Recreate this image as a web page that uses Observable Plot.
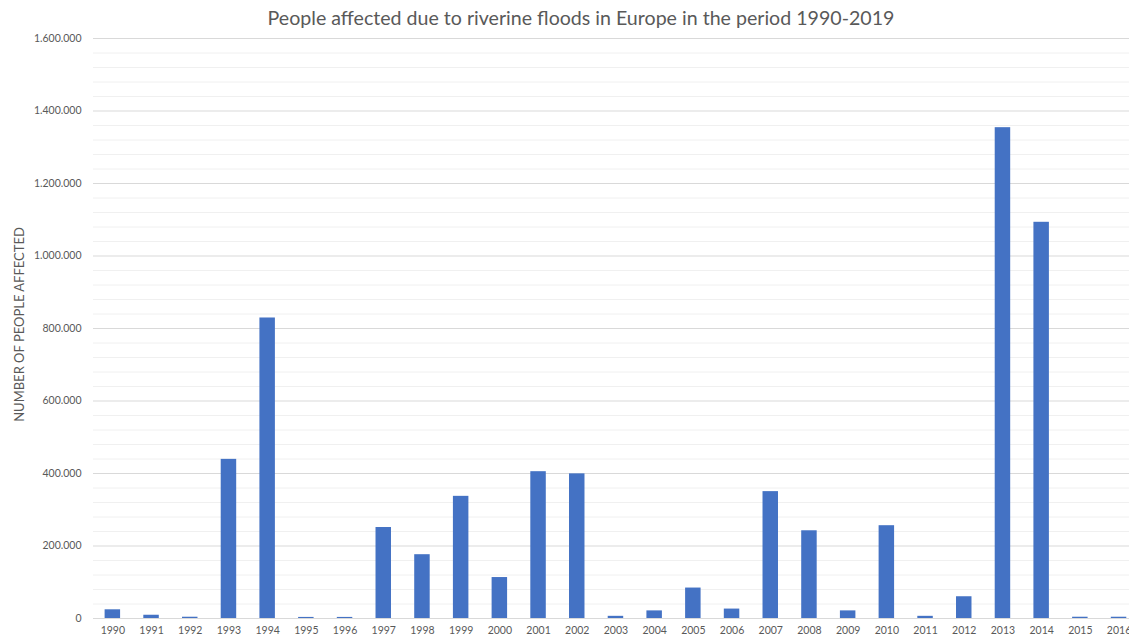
<!DOCTYPE html>
<html>
<head>
<meta charset="utf-8">
<script src="https://cdn.jsdelivr.net/npm/d3@7"></script>
<script src="https://cdn.jsdelivr.net/npm/@observablehq/plot@0.6"></script>
<style>
  html, body { margin: 0; padding: 0; background: #fff; overflow: hidden; }
  #wrap { position: relative; width: 1280px; height: 639px; }
  #title {
    position: absolute; left: 0; top: 7px; width: 1162px;
    text-align: center; font-family: Lato, "Open Sans", sans-serif;
    font-size: 19.6px; color: #595959; line-height: 22px;
  }
  #chart { position: absolute; left: 0; top: 30px; }
</style>
</head>
<body>
<div id="wrap">
  <div id="title">People affected due to riverine floods in Europe in the period 1990-2019</div>
  <div id="chart"></div>
</div>
<script>
// Full period on the category axis
const years = d3.range(1990, 2020).map(String);

// Years with a reported value
const reportedYears = [
  "1990", "1991", "1992", "1993", "1994", "1995", "1996", "1997", "1998",
  "1999", "2000", "2001", "2002", "2003", "2004", "2005", "2006", "2007",
  "2008", "2009", "2010", "2011", "2012", "2013", "2014", "2015", "2016"
];

// Number of people affected per year
const peopleAffected = [
  24000, 9000, 3500, 439000, 829000, 3000, 3000, 251000, 176000,
  337000, 113000, 405000, 399000, 6000, 21000, 84000, 26000, 350000,
  242000, 21000, 256000, 6000, 60000, 1354000, 1093000, 3500, 3500
];

// Axis ticks
const majorTicks = d3.range(0, 1600001, 200000);
const minorTicks = d3.range(0, 1600001, 40000).filter(v => v % 200000 !== 0);

const rows = reportedYears.map((y, i) => ({year: y, value: peopleAffected[i]}));

const fmt = d3.formatLocale({decimal: ",", thousands: ".", grouping: [3], currency: ["", ""]}).format(",d");

const chart = Plot.plot({
  width: 1280,
  height: 609,
  marginTop: 8,
  marginBottom: 21,
  marginLeft: 93,
  marginRight: 26,
  style: {fontFamily: "Lato, 'Open Sans', sans-serif", fontSize: "10.5px", color: "#595959", background: "#fff"},
  // bars take 40% of each slot, with half a gap at both ends of the axis
  x: {domain: years, paddingInner: 0.6, paddingOuter: 0.3, round: false},
  y: {domain: [0, 1600000]},
  marks: [
    Plot.ruleY(minorTicks, {stroke: "#f0f0f0", strokeWidth: 1}),
    Plot.ruleY(majorTicks, {stroke: "#d9d9d9", strokeWidth: 1}),
    Plot.barY(rows, {x: "year", y: "value", fill: "#4472C4"}),
    Plot.axisX({tickSize: 0, tickPadding: 8, fontSize: 10.5, label: null}),
    Plot.axisY({ticks: majorTicks, tickSize: 0, tickPadding: 12, tickFormat: fmt, fontSize: 10.5, label: null}),
    Plot.text(["NUMBER OF PEOPLE AFFECTED"], {
      frameAnchor: "left", textAnchor: "middle", dx: -74, dy: -4, rotate: -90,
      fontSize: 13, fill: "#595959"
    })
  ]
});

document.getElementById("chart").appendChild(chart);
</script>
</body>
</html>
